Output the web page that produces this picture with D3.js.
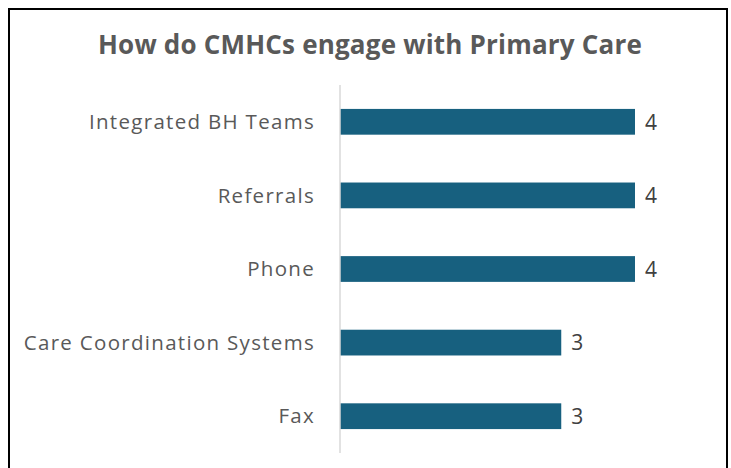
<!DOCTYPE html>
<html>
<head>
<meta charset="utf-8">
<script src="https://cdn.jsdelivr.net/npm/d3@7"></script>
<style>
  body { margin: 0; background: #fff; }
</style>
</head>
<body>
<script>
const categories = ["Integrated BH Teams", "Referrals", "Phone", "Care Coordination Systems", "Fax"];
const values = [4, 4, 4, 3, 3];

const w = 731;
const h = 468;

const svg = d3.select("body").append("svg").attr("width", w).attr("height", h);

// frame
svg.append("path")
  .attr("d", "M9,470 L9,9 L727,9 L727,470")
  .attr("fill", "none")
  .attr("stroke", "#000")
  .attr("stroke-width", 2);

// title
svg.append("text")
  .attr("x", 370)
  .attr("y", 54)
  .attr("text-anchor", "middle")
  .attr("font-family", "'Open Sans', sans-serif")
  .attr("font-weight", "bold")
  .attr("font-size", 26)
  .attr("letter-spacing", 0.2)
  .attr("fill", "#595959")
  .text("How do CMHCs engage with Primary Care");

const x = d3.scaleLinear().domain([0, 4]).range([340, 635]);
const y = d3.scaleBand().domain(categories).range([85, 453]).paddingInner(0.65).paddingOuter(0.325);

// bars
svg.selectAll(".bar")
  .data(categories)
  .join("rect")
  .attr("class", "bar")
  .attr("x", x(0))
  .attr("y", d => y(d))
  .attr("width", (d, i) => x(values[i]) - x(0))
  .attr("height", y.bandwidth())
  .attr("fill", "#17607f");

// axis line
svg.append("line")
  .attr("x1", x(0))
  .attr("x2", x(0))
  .attr("y1", 85)
  .attr("y2", 453)
  .attr("stroke", "#d9d9d9")
  .attr("stroke-width", 1.5);

// category labels
svg.selectAll(".cat")
  .data(categories)
  .join("text")
  .attr("class", "cat")
  .attr("x", 315)
  .attr("y", d => y(d) + y.bandwidth() / 2)
  .attr("dy", "0.35em")
  .attr("text-anchor", "end")
  .attr("font-family", "'Open Sans', sans-serif")
  .attr("font-size", 20.5)
  .attr("letter-spacing", 1.3)
  .attr("fill", "#595959")
  .text(d => d);

// value labels
svg.selectAll(".val")
  .data(categories)
  .join("text")
  .attr("class", "val")
  .attr("x", (d, i) => x(values[i]) + 10)
  .attr("y", d => y(d) + y.bandwidth() / 2)
  .attr("dy", "0.37em")
  .attr("font-family", "'Open Sans', sans-serif")
  .attr("font-size", 21)
  .attr("fill", "#404040")
  .text((d, i) => values[i]);
</script>
</body>
</html>
